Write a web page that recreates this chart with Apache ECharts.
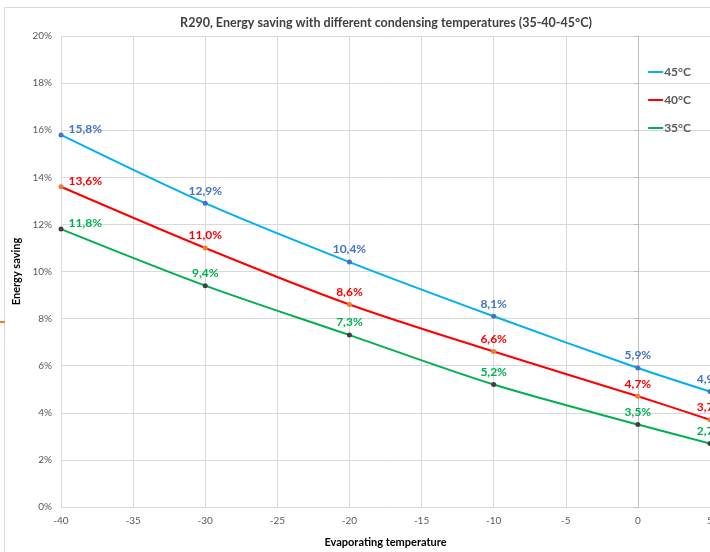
<!DOCTYPE html>
<html><head><meta charset="utf-8">
<script src="https://cdn.jsdelivr.net/npm/echarts@6/dist/echarts.min.js"></script>
<style>html,body{margin:0;padding:0;background:#fff}#c{width:710px;height:552px}</style>
</head><body><div id="c"></div>
<script>
const evapTemps = [-40, -30, -20, -10, 0, 5];
const saving45 = [15.8, 12.9, 10.4, 8.1, 5.9, 4.9];
const saving40 = [13.6, 11.0, 8.6, 6.6, 4.7, 3.7];
const saving35 = [11.8, 9.4, 7.3, 5.2, 3.5, 2.7];
const seriesNames = ['45°C', '40°C', '35°C'];
const yTicks = [0, 2, 4, 6, 8, 10, 12, 14, 16, 18, 20];

const FONT = 'Lato';
const lineColors = ['#00B0F0', '#FF0000', '#00B050'];
const markerColors = ['#4472C4', '#ED7D31', '#404040'];
const labelColors = ['#4472C4', '#FF0000', '#00B050'];

function build(values, i) {
  return {
    name: seriesNames[i],
    type: 'line',
    smooth: 0.3,
    symbol: 'circle',
    symbolSize: 5,
    z: 3 - i,
    lineStyle: { color: lineColors[i], width: 2 },
    itemStyle: { color: markerColors[i] },
    label: {
      show: true, position: 'top', distance: 4,
      color: labelColors[i], fontFamily: FONT, fontWeight: 'bold', fontSize: 12,
      formatter: p => p.value[1].toFixed(1).replace('.', ',') + '%'
    },
    data: evapTemps.map((t, k) => {
      const d = { value: [t, values[k]] };
      if (k === 0) d.label = { position: 'right', offset: [1, -6] };
      return d;
    })
  };
}

const chart = echarts.init(document.getElementById('c'));
chart.setOption({
  animation: false,
  backgroundColor: '#fff',
  title: {
    text: 'R290, Energy saving with different condensing temperatures (35-40-45°C)',
    left: 381, top: 11, textAlign: 'center',
    textStyle: { fontFamily: FONT, fontSize: 12.5, fontWeight: 'bold', color: '#404040' }
  },
  legend: {
    orient: 'vertical', right: 14, top: 61,
    icon: 'rect', itemWidth: 15, itemHeight: 2, itemGap: 16,
    textStyle: { fontFamily: FONT, fontSize: 12, fontWeight: 'bold', color: '#595959', padding: [0, 0, 0, -4] },
    data: seriesNames.map((n, i) => ({ name: n, itemStyle: { color: lineColors[i] } }))
  },
  grid: { left: 61, right: 0, top: 36, bottom: 45, containLabel: false, outerBoundsMode: 'none' },
  xAxis: {
    type: 'value', min: -40, max: 5, interval: 5,
    name: 'Evaporating temperature', nameLocation: 'middle', nameGap: 30,
    nameTextStyle: { fontFamily: FONT, fontSize: 11, fontWeight: 'bold', color: '#000' },
    axisLine: { show: true, lineStyle: { color: '#D9D9D9' } },
    axisTick: { show: false },
    axisLabel: { fontFamily: FONT, fontSize: 10, color: '#595959', margin: 9 },
    splitLine: { show: true, lineStyle: { color: '#D9D9D9' } }
  },
  yAxis: {
    type: 'value', min: yTicks[0], max: yTicks[yTicks.length - 1], interval: 2,
    name: 'Energy saving', nameLocation: 'middle', nameGap: 36,
    nameTextStyle: { fontFamily: FONT, fontSize: 11, fontWeight: 'bold', color: '#000' },
    axisLine: { show: true, lineStyle: { color: '#BFBFBF' } },
    axisTick: { show: true, length: 4, lineStyle: { color: '#BFBFBF' } },
    axisLabel: { fontFamily: FONT, fontSize: 10, color: '#595959', margin: 9, formatter: v => v + '%' },
    splitLine: { show: true, lineStyle: { color: '#D9D9D9' } }
  },
  graphic: [
    { type: 'rect', shape: { x: 4.5, y: 7.5, width: 720, height: 560 }, style: { fill: 'none', stroke: '#D9D9D9', lineWidth: 1 }, silent: true },
    { type: 'rect', shape: { x: 0, y: 321, width: 5, height: 2 }, style: { fill: '#ED7D31' }, silent: true }
  ],
  series: [build(saving45, 0), build(saving40, 1), build(saving35, 2)]
});
</script>
</body></html>
